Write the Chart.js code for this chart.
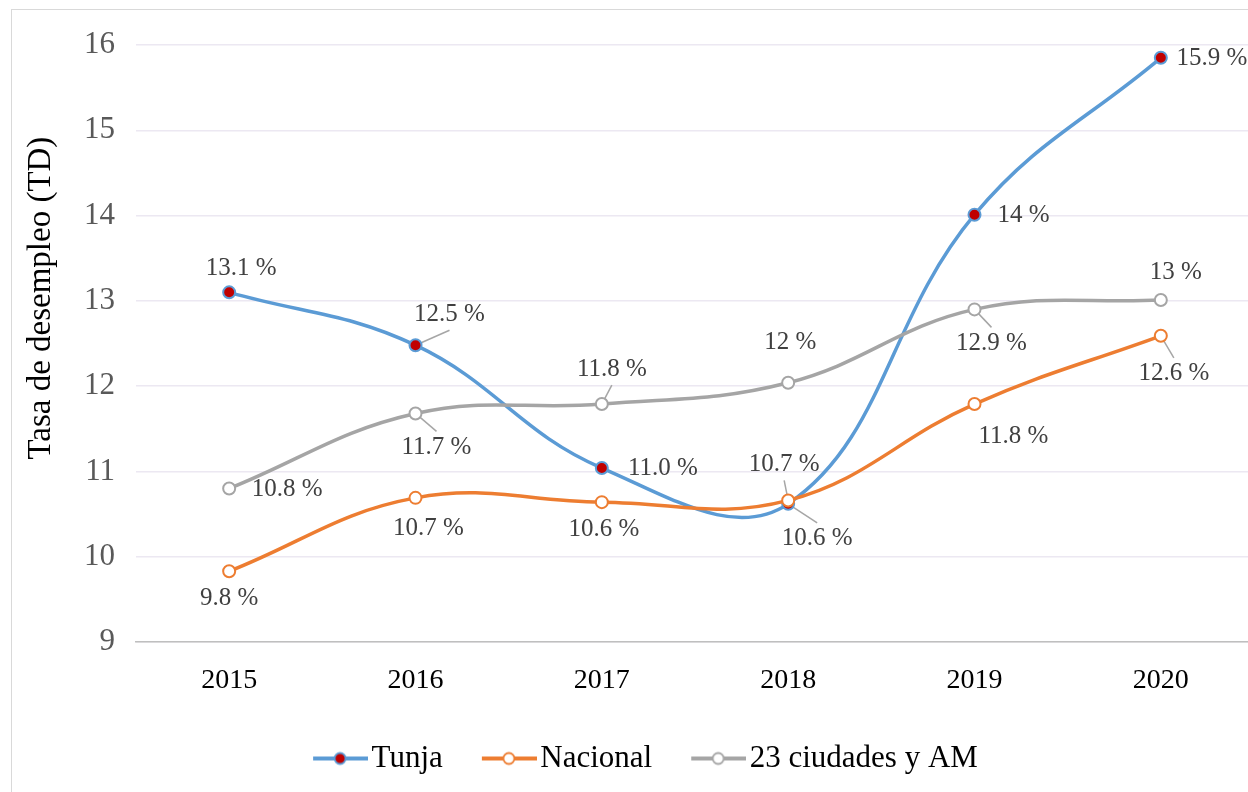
<!DOCTYPE html>
<html>
<head>
<meta charset="utf-8">
<script src="https://cdn.jsdelivr.net/npm/chart.js@4"></script>
<style>
  html, body { margin: 0; padding: 0; background: #fff; overflow: hidden; }
  .frame { position: absolute; left: 11px; top: 9px; width: 1400px; height: 900px; border: 1px solid #d9d9d9; }
  #chart { position: absolute; left: 0; top: 0; }
</style>
</head>
<body>
<div class="frame"></div>
<canvas id="chart" width="1262" height="792"></canvas>
<script>
const years = ["2015", "2016", "2017", "2018", "2019", "2020"];
const tunja = [13.1, 12.48, 11.04, 10.62, 14.01, 15.85];
const nacional = [9.83, 10.69, 10.64, 10.66, 11.79, 12.59];
const ciudades = [10.8, 11.68, 11.79, 12.04, 12.9, 13.01];
const tunjaText = ["13.1 %", "12.5 %", "11.0 %", "10.6 %", "14 %", "15.9 %"];
const nacionalText = ["9.8 %", "10.7 %", "10.6 %", "10.7 %", "11.8 %", "12.6 %"];
const ciudadesText = ["10.8 %", "11.7 %", "11.8 %", "12 %", "12.9 %", "13 %"];
const yTicks = [9, 10, 11, 12, 13, 14, 15, 16];

// where each data label sits relative to its point: [dx, dy, leader]
const labelPlace = [
  [[12, -24, 0], [34, -31, 1], [61, 0, 0], [29, 35, 1], [49, 1, 0], [51, 1, 0]],
  [[0, 27, 0], [13, 31, 0], [2, 27, 0], [-4, -36, 1], [39, 32, 0], [13, 38, 1]],
  [[58, 1, 0], [21, 34, 1], [10, -35, 1], [2, -40, 0], [17, 34, 1], [15, -28, 0]]
];

const serif = "'Liberation Serif', 'Times New Roman', serif";

// legend marker: line with a dot, drawn in the right part of a wider image
function legendIcon(color, fill) {
  const c = document.createElement("canvas");
  c.width = 96;
  c.height = 16;
  const g = c.getContext("2d");
  g.strokeStyle = color;
  g.lineWidth = 4;
  g.beginPath();
  g.moveTo(41, 8);
  g.lineTo(96, 8);
  g.stroke();
  g.beginPath();
  g.arc(68, 8, 5.5, 0, Math.PI * 2);
  g.fillStyle = fill;
  g.fill();
  g.lineWidth = 1.8;
  g.stroke();
  return c;
}

const dataLabels = {
  id: "dataLabels",
  beforeDatasetsDraw(chart) {
    const ctx = chart.ctx;
    ctx.save();
    ctx.strokeStyle = "#a6a6a6";
    ctx.lineWidth = 1.5;
    chart.data.datasets.forEach((ds, i) => {
      const meta = chart.getDatasetMeta(i);
      meta.data.forEach((pt, j) => {
        const p = labelPlace[i][j];
        if (!p[2]) return;
        const ex = pt.x + p[0];
        const ey = pt.y + p[1] + (p[1] < 0 ? 16 : -16);
        ctx.beginPath();
        ctx.moveTo(pt.x, pt.y);
        ctx.lineTo(ex, ey);
        ctx.stroke();
      });
    });
    ctx.restore();
  },
  afterDatasetsDraw(chart) {
    const ctx = chart.ctx;
    ctx.save();
    ctx.font = "25px " + serif;
    ctx.fillStyle = "#404040";
    ctx.textAlign = "center";
    ctx.textBaseline = "middle";
    chart.data.datasets.forEach((ds, i) => {
      const meta = chart.getDatasetMeta(i);
      meta.data.forEach((pt, j) => {
        const p = labelPlace[i][j];
        ctx.fillText(ds.labelText[j], pt.x + p[0], pt.y + p[1]);
      });
    });
    ctx.restore();
  }
};

new Chart(document.getElementById("chart"), {
  type: "line",
  data: {
    labels: years,
    datasets: [
      {
        label: "Tunja",
        data: tunja,
        labelText: tunjaText,
        borderColor: "#5b9bd5",
        backgroundColor: "#c00000",
        pointBackgroundColor: "#c00000",
        pointBorderColor: "#5b9bd5",
        icon: legendIcon("#5b9bd5", "#c00000"),
        order: 3
      },
      {
        label: "Nacional",
        data: nacional,
        labelText: nacionalText,
        borderColor: "#ed7d31",
        backgroundColor: "#ffffff",
        pointBackgroundColor: "#ffffff",
        pointBorderColor: "#ed7d31",
        icon: legendIcon("#ed7d31", "#ffffff"),
        order: 1
      },
      {
        label: "23 ciudades y AM",
        data: ciudades,
        labelText: ciudadesText,
        borderColor: "#a5a5a5",
        backgroundColor: "#ffffff",
        pointBackgroundColor: "#ffffff",
        pointBorderColor: "#a5a5a5",
        icon: legendIcon("#a5a5a5", "#ffffff"),
        order: 2
      }
    ]
  },
  options: {
    responsive: false,
    animation: false,
    layout: { padding: { top: 45, left: 0, right: 0, bottom: 8 } },
    elements: {
      line: { borderWidth: 3.5, tension: 0.4 },
      point: { radius: 6, borderWidth: 2, hoverRadius: 6 }
    },
    scales: {
      x: {
        offset: true,
        grid: { display: false },
        border: { color: "#bfbfbf", width: 1.5 },
        ticks: { color: "#000", font: { family: serif, size: 28 }, padding: 14 },
        afterFit(scale) { scale.height = 91; }
      },
      y: {
        min: 9,
        max: 16,
        afterBuildTicks(scale) { scale.ticks = yTicks.map(v => ({ value: v })); },
        grid: { color: "#ece8f2", lineWidth: 1.5, drawTicks: false },
        border: { display: false },
        ticks: { color: "#595959", font: { family: serif, size: 31 }, padding: 21 },
        title: {
          display: true,
          text: "           Tasa de desempleo (TD)",
          color: "#000",
          font: { family: serif, size: 33 },
          padding: { top: 22, bottom: 0 }
        },
        afterFit(scale) { scale.width = 136; }
      }
    },
    plugins: {
      tooltip: { enabled: false },
      legend: {
        position: "bottom",
        labels: {
          color: "#000",
          font: { family: serif, size: 31 },
          usePointStyle: true,
          pointStyleWidth: 72,
          padding: 10,
          generateLabels(chart) {
            return chart.data.datasets.map((ds, i) => ({
              text: ds.label,
              pointStyle: ds.icon,
              fillStyle: ds.borderColor,
              strokeStyle: ds.borderColor,
              fontColor: "#000",
              lineWidth: 0,
              datasetIndex: i,
              hidden: false
            }));
          }
        }
      }
    }
  },
  plugins: [dataLabels]
});
</script>
</body>
</html>
